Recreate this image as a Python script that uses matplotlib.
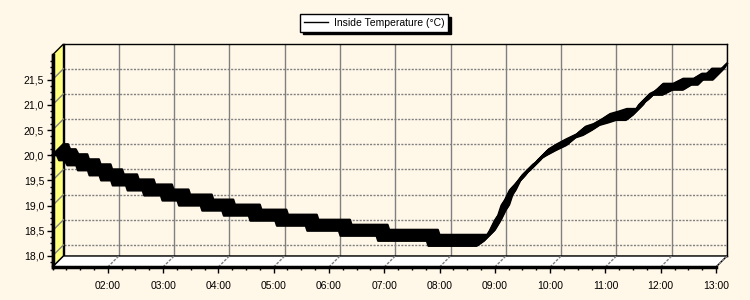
import matplotlib
matplotlib.use("Agg")
import matplotlib.pyplot as plt
from matplotlib.patches import Polygon
from matplotlib.lines import Line2D
from matplotlib.transforms import offset_copy, IdentityTransform
from matplotlib.ticker import MultipleLocator, FuncFormatter

plt.rcParams['font.family'] = ['Liberation Sans', 'DejaVu Sans']

#================= data (hour of day, inside temperature) =================
hours = [1.00, 1.08, 1.12, 1.22, 1.27, 1.43, 1.46, 1.64, 1.67, 1.85,
         1.88, 2.06, 2.09, 2.33, 2.36, 2.63, 2.66, 2.96, 2.99, 3.26,
         3.29, 3.68, 3.71, 4.07, 4.10, 4.55, 4.58, 5.03, 5.06, 5.58,
         5.61, 6.18, 6.21, 6.86, 6.89, 7.77, 7.80, 8.67, 8.80, 8.91,
         9.00, 9.06, 9.12, 9.18, 9.27, 9.36, 9.50, 9.63, 9.78, 9.93,
         10.10, 10.29, 10.45, 10.59, 10.75, 10.89, 11.05, 11.19, 11.37, 11.49,
         11.61, 11.70, 11.76, 11.85, 12.03, 12.21, 12.40, 12.55, 12.67, 12.73,
         12.94, 13.00]
temps = [20.0, 20.0, 19.9, 19.9, 19.8, 19.8, 19.7, 19.7, 19.6, 19.6,
         19.5, 19.5, 19.4, 19.4, 19.3, 19.3, 19.2, 19.2, 19.1, 19.1,
         19.0, 19.0, 18.9, 18.9, 18.8, 18.8, 18.7, 18.7, 18.6, 18.6,
         18.5, 18.5, 18.4, 18.4, 18.3, 18.3, 18.2, 18.2, 18.3, 18.5,
         18.7, 18.8, 19.0, 19.1, 19.3, 19.4, 19.6, 19.7, 19.9, 20.0,
         20.1, 20.2, 20.35, 20.4, 20.5, 20.6, 20.65, 20.7, 20.7, 20.8,
         21.0, 21.05, 21.1, 21.2, 21.2, 21.3, 21.3, 21.4, 21.4, 21.5,
         21.5, 21.6]
hour_ticks = [2, 3, 4, 5, 6, 7, 8, 9, 10, 11, 12, 13]
hour_labels = ['02:00', '03:00', '04:00', '05:00', '06:00', '07:00',
               '08:00', '09:00', '10:00', '11:00', '12:00', '13:00']
temp_ticks = [18.0, 18.5, 19.0, 19.5, 20.0, 20.5, 21.0, 21.5]
series_name = 'Inside Temperature (°C)'

#================= layout (pixels) =================
W, H = 750, 300
DEPTH = 11
fl, fr, ft, fb = 52.5, 716, 55, 267
bg = '#fff7e8'

fig = plt.figure(figsize=(W / 100, H / 100), dpi=100, facecolor=bg)
back = fig.add_axes([(fl + DEPTH) / W, 1 - (fb - DEPTH) / H, (fr - fl) / W, (fb - ft) / H])
front = fig.add_axes([fl / W, 1 - fb / H, (fr - fl) / W, (fb - ft) / H])
back.set_zorder(0)
front.set_zorder(2)

for ax in (back, front):
    ax.set_xlim(1.0, 13.0)
    ax.set_ylim(17.78, 21.99)
    ax.set_xticks(hour_ticks)
    ax.set_yticks(temp_ticks)

# back wall with grid
back.set_facecolor(bg)
for s in back.spines.values():
    s.set_color('black')
    s.set_linewidth(1)
back.tick_params(length=0, labelleft=False, labelbottom=False)
back.grid(axis='y', color='#808080', linestyle=(0, (1.5, 1)), linewidth=1)
back.grid(axis='x', color='#808080', linestyle='-', linewidth=1)

# front axes with labels
front.patch.set_visible(False)
front.spines['top'].set_visible(False)
front.spines['right'].set_visible(False)
front.spines['left'].set_linewidth(2.5)
front.spines['bottom'].set_linewidth(2.5)
front.set_xticklabels(hour_labels)
front.yaxis.set_major_formatter(FuncFormatter(lambda v, p: f"{v:.1f}".replace('.', ',')))
front.xaxis.set_minor_locator(MultipleLocator(0.25))
front.yaxis.set_minor_locator(MultipleLocator(0.125))
front.tick_params(which='major', length=4, width=1, labelsize=7.5, color='black', pad=2)
front.tick_params(which='minor', length=2.5, width=1, color='black')
front.tick_params(axis='x', which='major', pad=6)

# side wall and floor
def px(ax, x, y):
    return ax.transAxes.transform((x, y))

wall = Polygon([px(front, 0, 0), px(front, 0, 1), px(back, 0, 1), px(back, 0, 0)],
               closed=True, facecolor='#ffff80', edgecolor='black', linewidth=1,
               transform=IdentityTransform(), zorder=1)
floor = Polygon([px(front, 0, 0), px(front, 1, 0), px(back, 1, 0), px(back, 0, 0)],
                closed=True, facecolor='white', edgecolor='black', linewidth=1,
                transform=IdentityTransform(), zorder=1)
fig.add_artist(wall)
fig.add_artist(floor)

# diagonal tick connectors
for t in temp_ticks:
    a = front.transData.transform((1.0, t))
    b = back.transData.transform((1.0, t))
    fig.add_artist(Line2D([a[0], b[0]], [a[1], b[1]], color='#808080', linewidth=1,
                          transform=IdentityTransform(), zorder=1.5))
for h in hour_ticks:
    a = front.transData.transform((h, 17.78))
    b = back.transData.transform((h, 17.78))
    fig.add_artist(Line2D([a[0], b[0]], [a[1], b[1]], color='#808080', linewidth=1,
                          linestyle=(0, (2, 1)), transform=IdentityTransform(), zorder=1.5))

# 3D ribbon of the series
for k in range(DEPTH + 1):
    tr = offset_copy(front.transData, fig=fig, x=k, y=k, units='dots')
    front.plot(hours, temps, color='black', linewidth=1.6, transform=tr, clip_on=False)

# legend
handle = Line2D([], [], color='black', linewidth=1)
leg = fig.legend([handle], [series_name], loc='center', bbox_to_anchor=(374 / W, 1 - 23 / H),
                 frameon=True, fancybox=False, edgecolor='black', facecolor='white', framealpha=1,
                 shadow={'color': 'black', 'alpha': 1}, fontsize=7.5, handlelength=2.3,
                 borderpad=0.35, handletextpad=0.6, borderaxespad=0)
leg.get_frame().set_linewidth(1)

fig.savefig('out.png', dpi=100, facecolor=bg)
